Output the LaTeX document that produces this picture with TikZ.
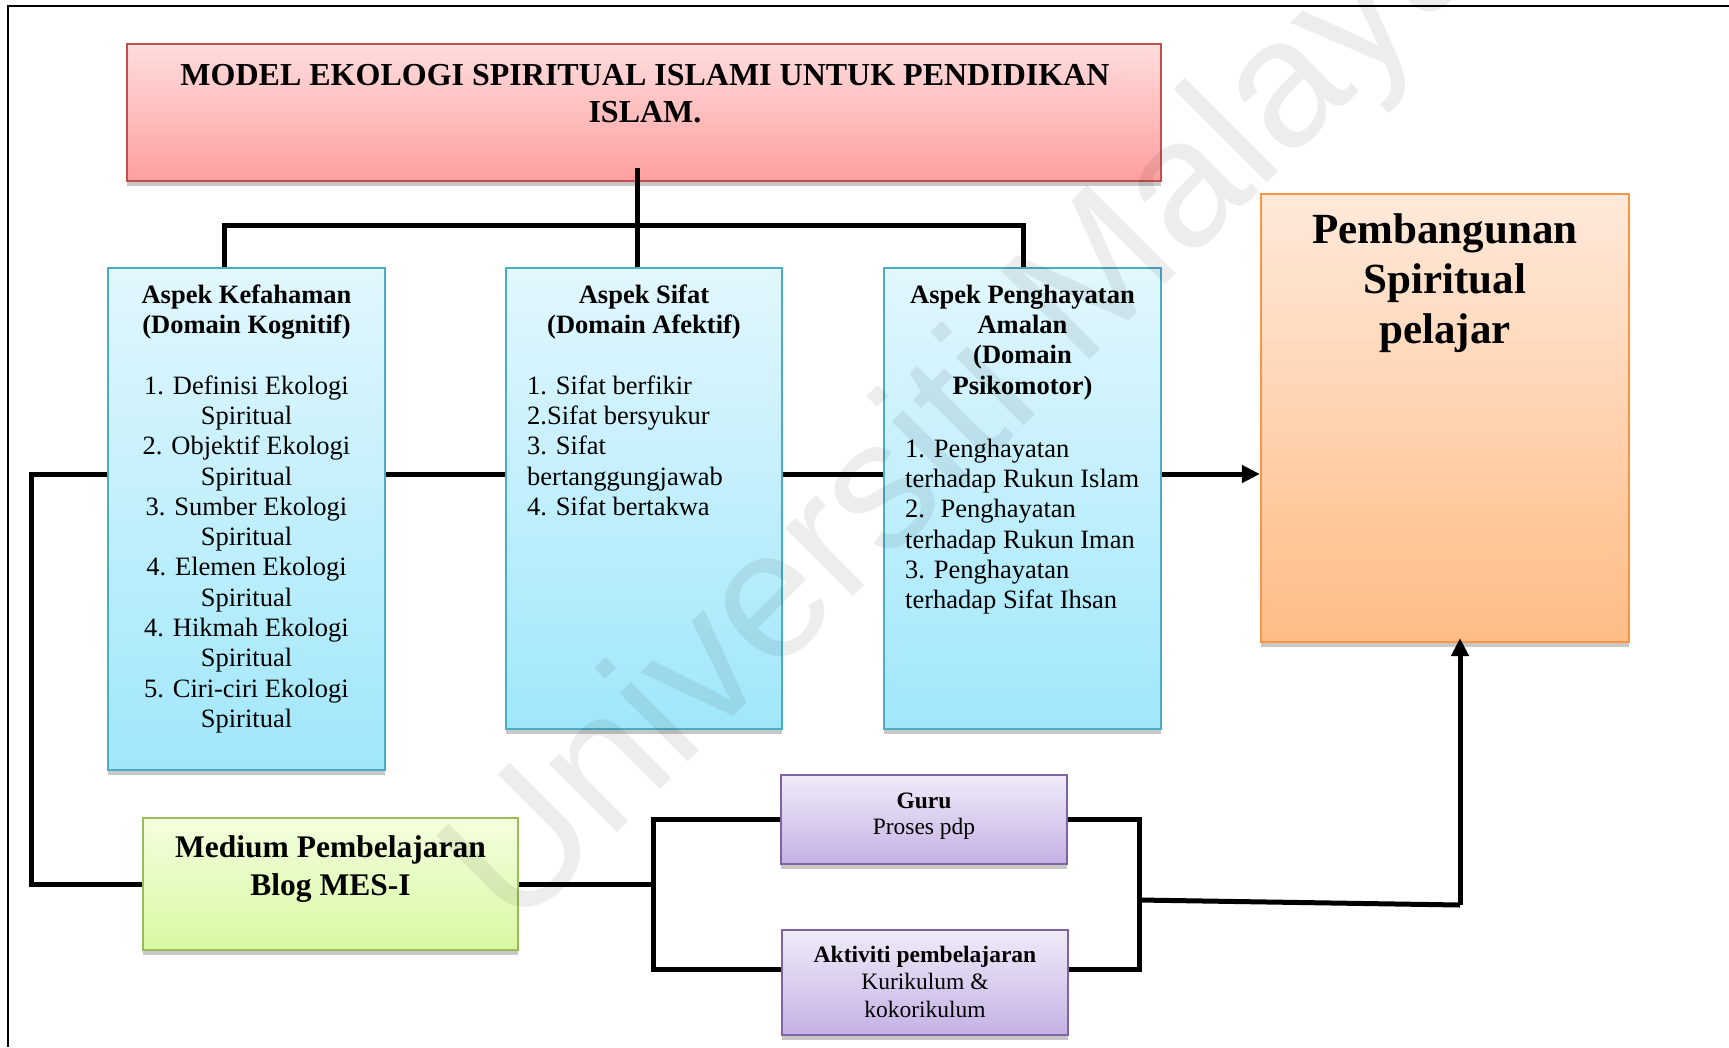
\documentclass[tikz,border=0pt]{standalone}
\usepackage{fontspec}
\setmainfont{Liberation Serif}
\newfontfamily\wmfont{Liberation Sans}
\usetikzlibrary{arrows.meta,shadows}
\definecolor{redB}{HTML}{C0504D}
\definecolor{redT}{HTML}{FFDDDD}
\definecolor{redL}{HTML}{FF9F9F}
\definecolor{bluB}{HTML}{4BACC6}
\definecolor{bluT}{HTML}{E2F7FD}
\definecolor{bluL}{HTML}{A0E7FB}
\definecolor{orgB}{HTML}{F79646}
\definecolor{orgT}{HTML}{FFE9DA}
\definecolor{orgL}{HTML}{FFBC85}
\definecolor{grnB}{HTML}{9BBB59}
\definecolor{grnT}{HTML}{F4FEDE}
\definecolor{grnL}{HTML}{D7F9A2}
\definecolor{purB}{HTML}{8064A2}
\definecolor{purT}{HTML}{F0EBF8}
\definecolor{purL}{HTML}{C5B1E5}
\tikzset{
  boxbase/.style={rectangle, inner sep=0pt, line width=2.2pt,
    drop shadow={shadow xshift=0pt, shadow yshift=-5pt, opacity=0.22, fill=black}},
  redbox/.style={boxbase, draw=redB, top color=redT, bottom color=redL},
  blubox/.style={boxbase, draw=bluB, top color=bluT, bottom color=bluL},
  orgbox/.style={boxbase, draw=orgB, top color=orgT, bottom color=orgL},
  grnbox/.style={boxbase, draw=grnB, top color=grnT, bottom color=grnL},
  purbox/.style={boxbase, draw=purB, top color=purT, bottom color=purL},
  txt/.style={inner sep=0pt, align=center, anchor=north},
  ltxt/.style={inner sep=0pt, align=left, anchor=north west},
  conn/.style={line width=5pt, line join=miter},
  arr/.style={conn, -{Triangle[length=18pt,width=17pt]}},
}
\begin{document}
\begin{tikzpicture}[x=1pt,y=-1pt]
\useasboundingbox (0,0) rectangle (1729,1047);
\fill[white] (0,0) rectangle (1729,1047);
\draw[line width=2.5pt] (8,1047) -- (8,6) -- (1729,6);

% boxes
\node[redbox, minimum width=1034pt, minimum height=137pt] (title) at (644,112.5) {};
\node[blubox, minimum width=277pt, minimum height=502pt] (kog) at (246.5,519) {};
\node[blubox, minimum width=276pt, minimum height=461pt] (afek) at (644,498.5) {};
\node[blubox, minimum width=277pt, minimum height=461pt] (psiko) at (1022.5,498.5) {};
\node[orgbox, minimum width=368pt, minimum height=448pt] (pemb) at (1445,418) {};
\node[grnbox, minimum width=375pt, minimum height=132pt] (medium) at (330.5,884) {};
\node[purbox, minimum width=286pt, minimum height=89pt] (guru) at (924,819.5) {};
\node[purbox, minimum width=286pt, minimum height=105pt] (akt) at (925,982.5) {};

% watermark
\node[inner sep=0pt, anchor=base west, rotate=45, text=black, text opacity=0.07,
  font=\wmfont\fontsize{182pt}{200pt}\selectfont] (wm) at (515,935) {Universiti Malaya};

% texts
\node[txt, font=\bfseries\fontsize{32pt}{37pt}\selectfont] (ttitle) at (645,59)
  {\strut MODEL EKOLOGI SPIRITUAL ISLAMI UNTUK PENDIDIKAN\\ISLAM.};
\node[txt, font=\fontsize{26.5pt}{30.3pt}\selectfont] (tkog) at (246.5,281.8)
  {\strut\textbf{Aspek Kefahaman}\\\textbf{(Domain Kognitif)}\\\strut\\
   1. Definisi Ekologi\\Spiritual\\2. Objektif Ekologi\\Spiritual\\
   3. Sumber Ekologi\\Spiritual\\4. Elemen Ekologi\\Spiritual\\
   4. Hikmah Ekologi\\Spiritual\\5. Ciri-ciri Ekologi\\Spiritual};
\node[txt, font=\bfseries\fontsize{26.5pt}{30.3pt}\selectfont] (hafek) at (644,281.8)
  {\strut Aspek Sifat\\(Domain Afektif)};
\node[ltxt, font=\fontsize{26.5pt}{30.3pt}\selectfont] (lafek) at (527,372.8)
  {\strut 1. Sifat berfikir\\2.Sifat bersyukur\\3. Sifat\\bertanggungjawab\\4. Sifat bertakwa};
\node[txt, font=\bfseries\fontsize{26.5pt}{30.3pt}\selectfont] (hpsiko) at (1022.5,281.8)
  {\strut Aspek Penghayatan\\Amalan\\(Domain\\Psikomotor)};
\node[ltxt, font=\fontsize{26.5pt}{30.3pt}\selectfont] (lpsiko) at (905,435.8)
  {\strut 1. Penghayatan\\terhadap Rukun Islam\\2.~ Penghayatan\\terhadap Rukun Iman\\3. Penghayatan\\terhadap Sifat Ihsan};
\node[txt, font=\bfseries\fontsize{43pt}{50pt}\selectfont] (tpemb) at (1445,208)
  {\strut Pembangunan\\Spiritual\\pelajar};
\node[txt, font=\bfseries\fontsize{31.5pt}{38pt}\selectfont] (tmedium) at (330.5,830.4)
  {\strut Medium Pembelajaran\\Blog MES-I};
\node[txt, font=\fontsize{23.5pt}{26.5pt}\selectfont] (tguru) at (924,789.5)
  {\strut\textbf{Guru}\\Proses pdp};
\node[txt, font=\fontsize{23.5pt}{27.5pt}\selectfont] (takt) at (925,942.75)
  {\strut\textbf{Aktiviti pembelajaran}\\Kurikulum \&\\kokorikulum};

% connector coordinates
\coordinate (tb) at (637,168);
\coordinate (bL) at (224,225);
\coordinate (bR) at (1023,225);
\coordinate (r) at (0,474);
\coordinate (lx) at (31,0);
\coordinate (sx) at (653,0);
\coordinate (ex) at (1139,0);
\coordinate (ar) at (0,969);
\coordinate (m1) at (1139,900);
\coordinate (m2) at (1460,905);

% connectors
\draw[conn] (tb) -- (tb |- afek.north);
\draw[conn] (bL |- kog.north) -- (bL) -- (bR) -- (bR |- psiko.north);
\draw[conn] (kog.east |- r) -- (afek.west |- r);
\draw[conn] (afek.east |- r) -- (psiko.west |- r);
\draw[arr] (psiko.east |- r) -- (pemb.west |- r);
\draw[conn] (kog.west |- r) -- (lx |- r) -- (lx |- medium.west) -- (medium.west);
\draw[conn] (medium.east) -- (sx |- medium.east);
\draw[conn] (guru.west) -- (sx |- guru.west) -- (sx |- ar) -- (akt.west |- ar);
\draw[conn] (guru.east) -- (ex |- guru.east) -- (ex |- ar) -- (akt.east |- ar);
\draw[conn] (m1) -- (m2);
\draw[arr, shorten >=-5pt] (m2) -- (m2 |- pemb.south);
\end{tikzpicture}
\end{document}
